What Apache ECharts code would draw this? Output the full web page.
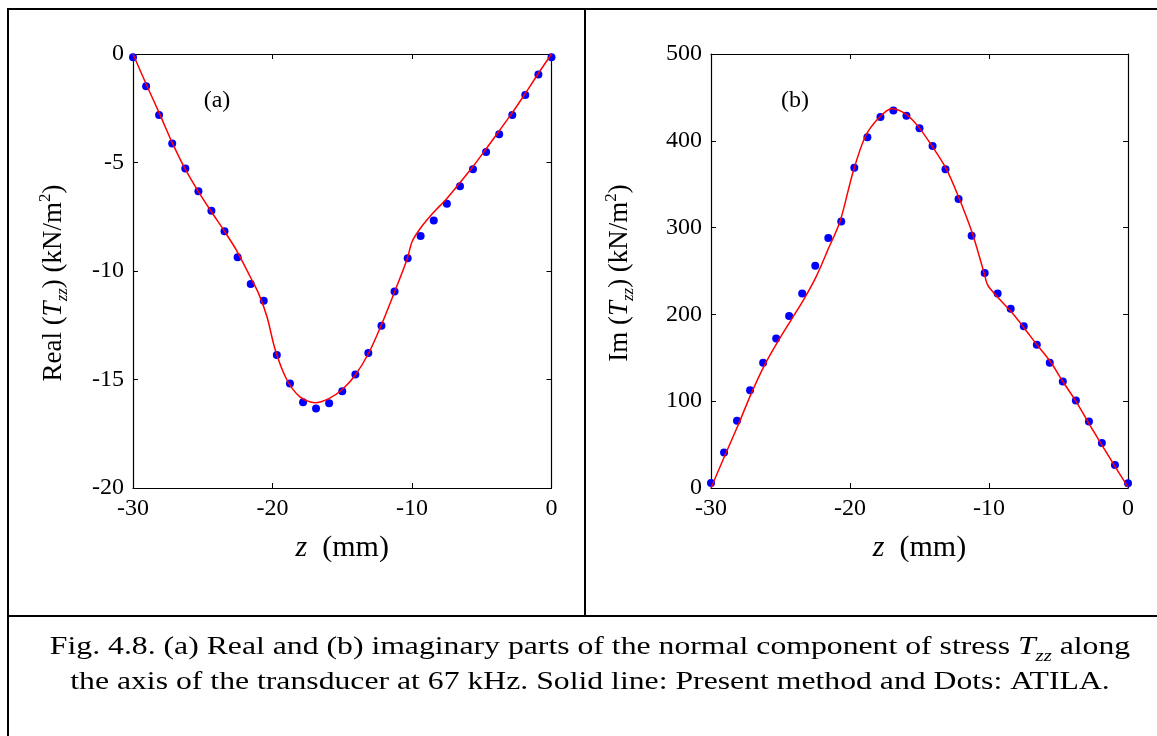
<!DOCTYPE html>
<html>
<head>
<meta charset="utf-8">
<script src="https://cdn.jsdelivr.net/npm/echarts@6/dist/echarts.min.js"></script>
<style>
  html, body { margin: 0; padding: 0; background: #fff; }
  #chart { width: 1157px; height: 736px; }
  .warm { position: absolute; left: -999px; top: 0; font-family: "Liberation Serif"; }
</style>
</head>
<body>
<span class="warm">warm <i>up</i></span>
<div id="chart"></div>
<script>
// z positions of the ATILA dots (mm)
var dotZ = [-30, -29.06, -28.13, -27.19, -26.25, -25.31, -24.38, -23.44, -22.5, -21.56, -20.63,
  -19.69, -18.75, -17.81, -16.88, -15.94, -15, -14.06, -13.13, -12.19, -11.25, -10.31,
  -9.38, -8.44, -7.5, -6.56, -5.63, -4.69, -3.75, -2.81, -1.88, -0.94, 0];
// (a) real part, dots
var dotRe = [-0.15, -1.49, -2.81, -4.12, -5.28, -6.32, -7.22, -8.17, -9.37, -10.6, -11.37,
  -13.87, -15.19, -16.05, -16.34, -16.1, -15.54, -14.77, -13.78, -12.52, -10.95, -9.41,
  -8.39, -7.67, -6.9, -6.1, -5.31, -4.52, -3.7, -2.81, -1.89, -0.94, -0.15];
// (b) imaginary part, dots
var dotIm = [5.9, 41, 77.4, 112.5, 144.4, 172.2, 198.2, 224.1, 256, 288, 307,
  369, 404, 427.3, 435, 429, 414.6, 394, 367.2, 333, 290.7, 247.8,
  224.1, 206.4, 186.3, 164.9, 144.4, 122.6, 100.7, 76.5, 51.9, 26.4, 5.5];

// present method, solid line (a)
var reZ = [-30, -29.06, -28.1, -27.2, -26.27, -25.3, -24.38, -23.46, -22.57, -21.57, -21,
  -20.4, -19.8, -18.98, -18.03, -16.95, -15.96, -15, -14.1, -13.1, -12.23, -11.26, -10.34,
  -9.99, -9.42, -8.48, -7.53, -6.59, -5.67, -4.72, -3.78, -2.86, -1.89, -0.97, 0];
var reLine = [0, -1.38, -2.75, -4.07, -5.28, -6.35, -7.27, -8.15, -9.06, -10.3, -11.03,
  -12.1, -13.64, -15.0, -15.8, -16.07, -15.88, -15.46, -14.83, -13.78, -12.54, -10.98, -9.43,
  -8.64, -8.05, -7.32, -6.68, -5.95, -5.22, -4.4, -3.57, -2.75, -1.83, -0.92, 0];

// present method, solid line (b)
var imZ = [-30, -29.04, -28.1, -27.1, -26.15, -25.2, -24.24, -23.3, -22.45, -21.6, -20.7,
  -19.8, -18.9, -17.95, -17, -16, -15.1, -14.1, -13.1, -12.2, -11.2, -10.35,
  -10.1, -9.5, -8.4, -7.5, -6.6, -5.6, -4.7, -3.75, -2.8, -1.9, -0.94, 0];
var imLine = [0, 36, 70.5, 109, 141.6, 168.5, 193.5, 218, 243, 274, 308,
  363, 405, 426, 437, 431, 416.6, 394, 368.5, 335.8, 293.5, 247.7,
  234, 222, 203, 185, 166, 146, 123, 100, 74, 50, 25, 1];

var xTicks = { min: -30, max: 0, interval: 10 };
var reTicks = { min: -20, max: 0, interval: 5 };
var imTicks = { min: 0, max: 500, interval: 100 };

var serif = '"Liberation Serif", "Times New Roman", serif';

function pairs(xs, ys) {
  return xs.map(function (x, i) { return [x, ys[i]]; });
}

var nameRich = {
  it: { fontStyle: 'italic', fontFamily: serif, fontSize: 27 },
  sub: { fontStyle: 'italic', fontFamily: serif, fontSize: 17, lineHeight: 16, verticalAlign: 'bottom' },
  sup: { fontFamily: serif, fontSize: 17, lineHeight: 16, verticalAlign: 'top' }
};

function xAx(grid, pos) {
  var bottom = pos === 'bottom';
  return {
    type: 'value', gridIndex: grid, position: pos,
    min: xTicks.min, max: xTicks.max, interval: xTicks.interval,
    splitLine: { show: false },
    axisLine: { show: true, onZero: false, lineStyle: { color: '#000', width: 1.2 } },
    axisTick: { show: true, inside: true, length: 5, lineStyle: { color: '#000' } },
    axisLabel: { show: bottom, color: '#000', fontFamily: serif, fontSize: 24, margin: 9 },
    name: bottom ? '{it|z}  (mm)' : '',
    nameLocation: 'middle', nameGap: 45,
    nameTextStyle: { color: '#000', fontFamily: serif, fontSize: 30,
      rich: { it: { fontStyle: 'italic', fontFamily: serif, fontSize: 30 } } }
  };
}

function yAx(grid, pos, t, name, gap, pad) {
  var left = pos === 'left';
  return {
    type: 'value', gridIndex: grid, position: pos,
    min: t.min, max: t.max, interval: t.interval,
    splitLine: { show: false },
    axisLine: { show: true, onZero: false, lineStyle: { color: '#000', width: 1.2 } },
    axisTick: { show: true, inside: true, length: 5, lineStyle: { color: '#000' } },
    axisLabel: { show: left, color: '#000', fontFamily: serif, fontSize: 24, margin: 9 },
    name: left ? name : '',
    nameLocation: 'middle', nameGap: gap,
    nameTextStyle: { color: '#000', fontFamily: serif, fontSize: 27, lineHeight: 34,
      padding: [0, pad || 0, 0, 0], rich: nameRich }
  };
}

var chart = echarts.init(document.getElementById('chart'));

function draw() {
  chart.clear();
  chart.setOption({
    backgroundColor: '#fff',
    animation: false,
    grid: [
      { left: 133, top: 54, width: 418.5, height: 434 },
      { left: 711, top: 54, width: 417, height: 434 }
    ],
    xAxis: [xAx(0, 'bottom'), xAx(0, 'top'), xAx(1, 'bottom'), xAx(1, 'top')],
    yAxis: [
      yAx(0, 'left', reTicks, 'Real ({it|T}{sub|zz}) (kN/m{sup|2})', 62, 24),
      yAx(0, 'right', reTicks, '', 0),
      yAx(1, 'left', imTicks, 'Im ({it|T}{sub|zz}) (kN/m{sup|2})', 74, 4),
      yAx(1, 'right', imTicks, '', 0)
    ],
    series: [
      {
        type: 'line', xAxisIndex: 0, yAxisIndex: 0, data: pairs(reZ, reLine),
        smooth: 0.3, showSymbol: false, lineStyle: { color: '#ff0000', width: 1.5 }
      },
      {
        type: 'scatter', xAxisIndex: 0, yAxisIndex: 0, data: pairs(dotZ, dotRe),
        symbolSize: 8, clip: false, itemStyle: { color: '#0000ff', opacity: 1 }
      },
      {
        type: 'line', xAxisIndex: 2, yAxisIndex: 2, data: pairs(imZ, imLine),
        smooth: 0.3, showSymbol: false, lineStyle: { color: '#ff0000', width: 1.5 }
      },
      {
        type: 'scatter', xAxisIndex: 2, yAxisIndex: 2, data: pairs(dotZ, dotIm),
        symbolSize: 8, clip: false, itemStyle: { color: '#0000ff', opacity: 1 }
      }
    ],
    graphic: [
      // frame of the figure
      { type: 'line', shape: { x1: 7, y1: 9, x2: 1157, y2: 9 }, style: { stroke: '#000', lineWidth: 2 } },
      { type: 'line', shape: { x1: 8, y1: 8, x2: 8, y2: 736 }, style: { stroke: '#000', lineWidth: 2 } },
      { type: 'line', shape: { x1: 585, y1: 9, x2: 585, y2: 616 }, style: { stroke: '#000', lineWidth: 2 } },
      { type: 'line', shape: { x1: 8, y1: 616, x2: 1157, y2: 616 }, style: { stroke: '#000', lineWidth: 2 } },
      // panel labels
      { type: 'text', x: 217, y: 101, style: { text: '(a)', font: '24px ' + serif, fill: '#000', textAlign: 'center', textVerticalAlign: 'middle' } },
      { type: 'text', x: 795, y: 101, style: { text: '(b)', font: '24px ' + serif, fill: '#000', textAlign: 'center', textVerticalAlign: 'middle' } },
      // caption
      {
        type: 'text', x: 590, y: 665, scaleX: 1.22,
        style: {
          text: 'Fig. 4.8. (a) Real and (b) imaginary parts of the normal component of stress {it|T}{sub|zz} along\n' +
                'the axis of the transducer at 67 kHz. Solid line: Present method and Dots: ATILA.',
          font: '26px ' + serif, fill: '#000', lineHeight: 35,
          textAlign: 'center', textVerticalAlign: 'middle',
          rich: {
            it: { fontStyle: 'italic', fontFamily: serif, fontSize: 26 },
            sub: { fontStyle: 'italic', fontFamily: serif, fontSize: 17, lineHeight: 20, verticalAlign: 'bottom' }
          }
        }
      }
    ]
  });
}

draw();
// redraw once the serif faces are ready, canvas text does not wait for them
if (document.fonts && document.fonts.load) {
  Promise.all([
    document.fonts.load('24px "Liberation Serif"'),
    document.fonts.load('italic 24px "Liberation Serif"')
  ]).then(draw, draw);
}
</script>
</body>
</html>
